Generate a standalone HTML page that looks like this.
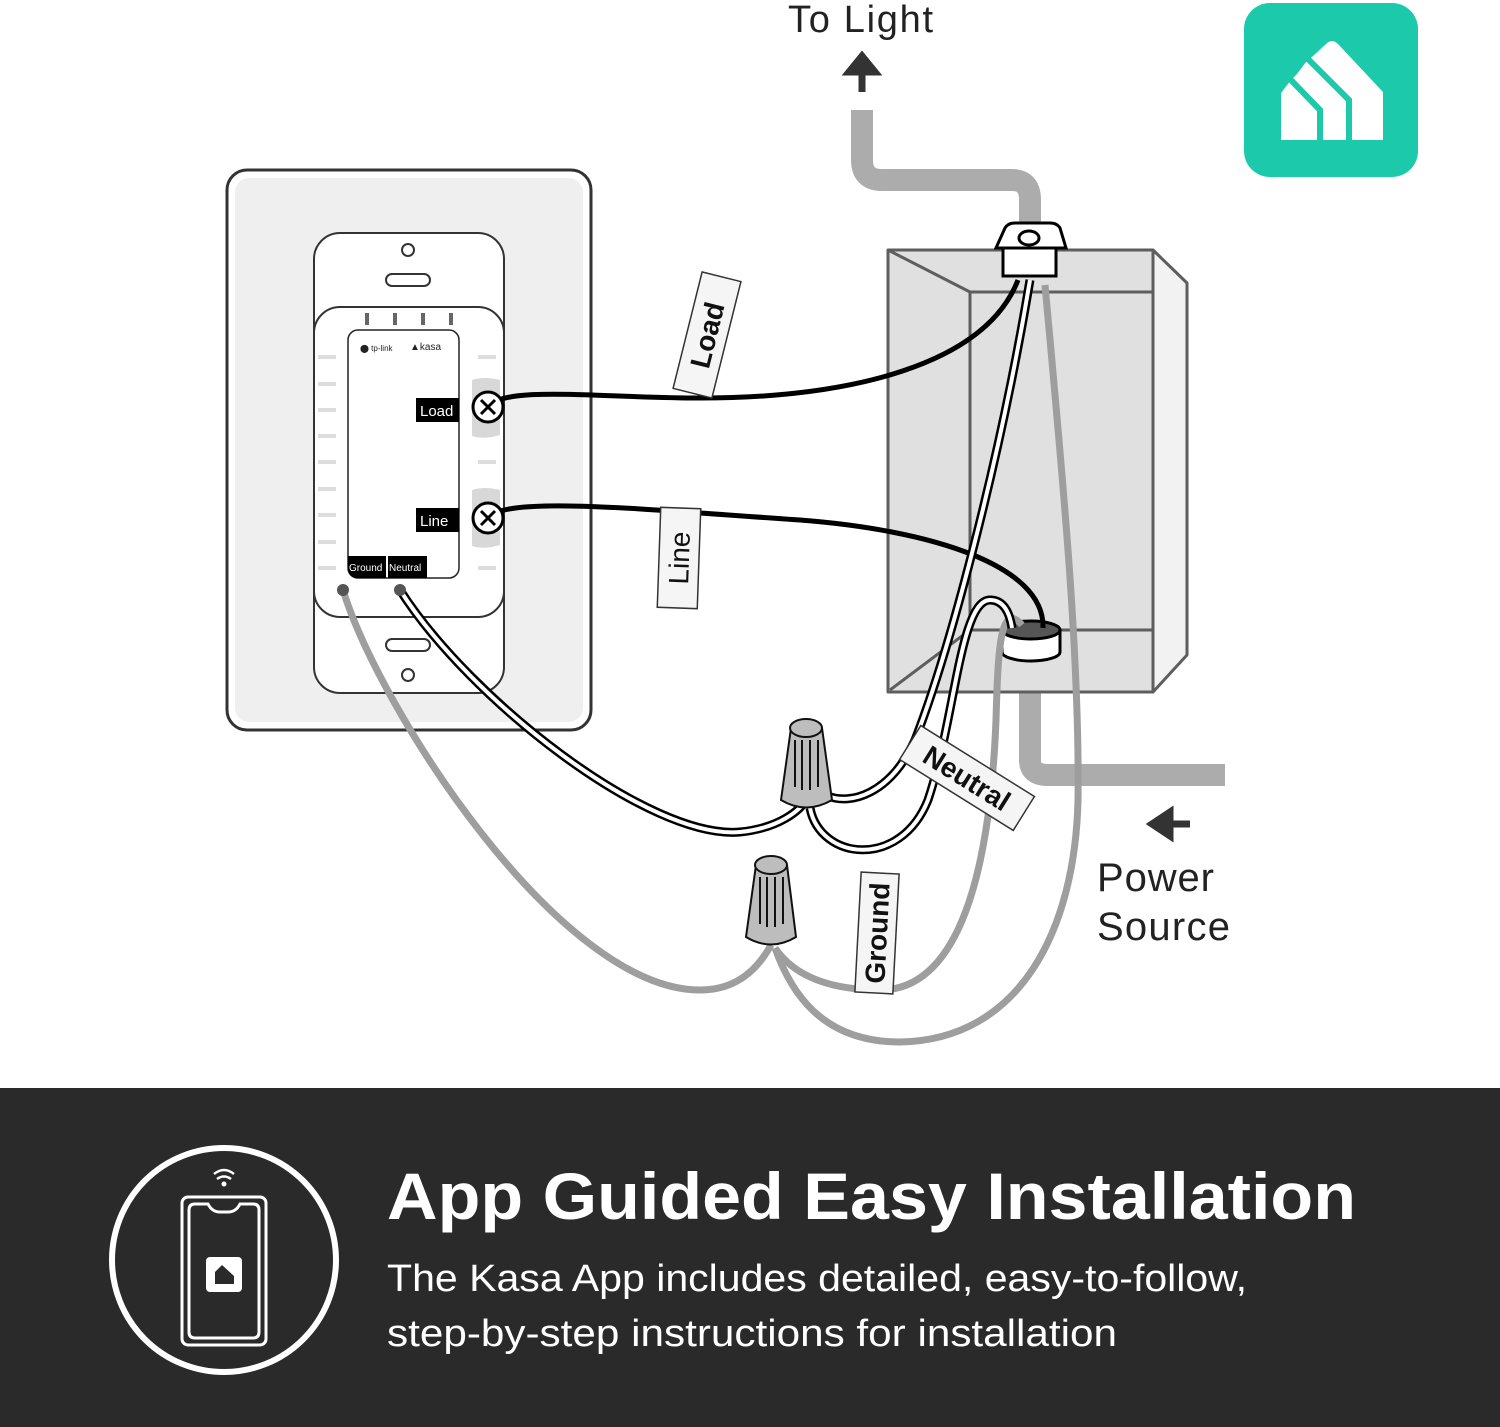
<!DOCTYPE html>
<html><head><meta charset="utf-8"><style>
html,body{margin:0;padding:0;background:#fff;}
svg{display:block;}
text{font-family:"Liberation Sans",sans-serif;}
</style></head><body>
<svg width="1500" height="1427" viewBox="0 0 1500 1427" xmlns="http://www.w3.org/2000/svg">
<rect width="1500" height="1427" fill="#fff"/>

<!-- To Light gray conduit -->
<path d="M862,110 V160 Q862,180 882,180 H1012 Q1030,180 1030,200 V235" fill="none" stroke="#acacac" stroke-width="22"/>
<path d="M862,92 V68 M849,72 L862,56 L875,72 Z" stroke="#333" stroke-width="7" fill="#333"/>
<text x="788" y="32" font-size="38" fill="#222" textLength="145">To Light</text>

<!-- Power source conduit -->
<path d="M1030,680 V760 Q1030,775 1048,775 H1225" fill="none" stroke="#acacac" stroke-width="22"/>
<path d="M1190,824 H1165 M1170,812 L1152,824 L1170,836 Z" stroke="#333" stroke-width="7" fill="#333"/>
<text x="1097" y="891" font-size="40" fill="#222" textLength="117">Power</text>
<text x="1097" y="940" font-size="40" fill="#222" textLength="133">Source</text>

<!-- Kasa icon -->
<rect x="1244" y="3" width="174" height="174" rx="26" fill="#1dc9ab"/>
<path d="M1281,140 V93 L1291,80 L1297,74 L1306,62 L1313,56 L1326,44 Q1332,38 1338,44 L1383,92 V140 Z" fill="#fff"/>
<path d="M1289,78 L1320,110 V142 M1307,58 L1349,100 V142" fill="none" stroke="#1dc9ab" stroke-width="6"/>

<!-- Box -->
<g stroke="#5e5e5e" stroke-width="3" stroke-linejoin="round">
<polygon points="1153,250 1187,283 1187,655 1153,692" fill="#f2f2f2"/>
<rect x="888" y="250" width="265" height="442" fill="#e0e0e0"/>
<rect x="970" y="292" width="183" height="338" fill="#e0e0e0"/>
<line x1="888" y1="250" x2="970" y2="292"/>
<line x1="890" y1="690" x2="970" y2="630"/>
</g>

<!-- Wall plate -->
<rect x="227" y="170" width="364" height="560" rx="20" fill="#fff" stroke="#333" stroke-width="3"/>
<rect x="235" y="178" width="348" height="544" rx="14" fill="#efefef"/>
<rect x="314" y="233" width="190" height="460" rx="26" fill="#fff" stroke="#333" stroke-width="2"/>
<circle cx="408" cy="250" r="6" fill="none" stroke="#333" stroke-width="2"/>
<circle cx="408" cy="675" r="6" fill="none" stroke="#333" stroke-width="2"/>
<path d="M392,274 h32 a6,6 0 0 1 0,12 h-32 a6,6 0 0 1 0,-12 Z" fill="none" stroke="#333" stroke-width="2"/>
<path d="M392,639 h32 a6,6 0 0 1 0,12 h-32 a6,6 0 0 1 0,-12 Z" fill="none" stroke="#333" stroke-width="2"/>
<rect x="314" y="307" width="190" height="310" rx="26" fill="#fff" stroke="#333" stroke-width="2"/>
<g fill="#ddd">
<rect x="318" y="355" width="18" height="4"/><rect x="318" y="382" width="18" height="4"/><rect x="318" y="408" width="18" height="4"/><rect x="318" y="434" width="18" height="4"/><rect x="318" y="460" width="18" height="4"/><rect x="318" y="487" width="18" height="4"/><rect x="318" y="513" width="18" height="4"/><rect x="318" y="540" width="18" height="4"/><rect x="318" y="566" width="18" height="4"/>
<rect x="478" y="355" width="18" height="4"/><rect x="478" y="460" width="18" height="4"/><rect x="478" y="566" width="18" height="4"/>
</g>
<g fill="#666"><rect x="365" y="313" width="4" height="12"/><rect x="393" y="313" width="4" height="12"/><rect x="421" y="313" width="4" height="12"/><rect x="449" y="313" width="4" height="12"/></g>
<path d="M472,380 Q484,376 500,380 V435 Q484,440 472,436 Z" fill="#d8d8d8"/>
<path d="M472,490 Q484,486 500,490 V545 Q484,550 472,546 Z" fill="#d8d8d8"/>
<rect x="348" y="330" width="111" height="248" rx="10" fill="#fff" stroke="#222" stroke-width="1.5"/>
<text x="360" y="351" font-size="8" fill="#222">⬤ tp-link</text>
<text x="410" y="350" font-size="10" fill="#222">▲kasa</text>
<rect x="416" y="398" width="43" height="24" fill="#000"/>
<text x="420" y="416" font-size="15" fill="#fff">Load</text>
<rect x="416" y="508" width="43" height="24" fill="#000"/>
<text x="420" y="526" font-size="15" fill="#fff">Line</text>
<path d="M348,556 H386 V578 H358 Q348,578 348,568 Z" fill="#000"/>
<rect x="388" y="556" width="39" height="22" fill="#000"/>
<text x="349" y="571" font-size="10" fill="#fff">Ground</text>
<text x="389" y="571" font-size="10" fill="#fff">Neutral</text>

<!-- Clamp top -->
<path d="M996,248 L1005,228 Q1008,223 1015,223 H1050 Q1057,223 1060,228 L1066,248 Z" fill="#fff" stroke="#000" stroke-width="3"/>
<ellipse cx="1029" cy="238" rx="10" ry="7" fill="#fff" stroke="#000" stroke-width="3"/>
<rect x="1003" y="248" width="53" height="28" fill="#fff" stroke="#000" stroke-width="3"/>

<!-- gray ground wire inside box from clamp -->
<path d="M1045,285 C1060,450 1080,650 1078,800 C1075,930 1020,1040 900,1042 C820,1042 790,990 775,948" fill="none" stroke="#9e9e9e" stroke-width="7"/>

<!-- Ring bottom -->
<path d="M1002,630 V652 A29,9 0 0 0 1060,652 V630" fill="#fff" stroke="#000" stroke-width="3"/>
<ellipse cx="1031" cy="630" rx="29" ry="9" fill="#555" stroke="#000" stroke-width="3"/>

<!-- Black wires -->
<path d="M488,407 C505,385 600,398 700,398 C850,398 985,365 1018,280" fill="none" stroke="#000" stroke-width="5"/>
<path d="M488,518 C505,495 650,510 800,520 C930,530 1045,565 1043,628" fill="none" stroke="#000" stroke-width="5"/>

<!-- gray ground to ring -->
<path d="M1022,625 C1000,600 998,650 996,720 C990,870 960,990 880,990 C820,990 790,970 775,948" fill="none" stroke="#9e9e9e" stroke-width="7"/>
<!-- gray ground from switch -->
<path d="M343,590 C380,710 560,990 700,990 C740,990 760,965 771,945" fill="none" stroke="#9e9e9e" stroke-width="7"/>
<circle cx="343" cy="590" r="6" fill="#555"/>

<!-- White wires -->
<g fill="none">
<path d="M400,590 C470,700 650,840 740,832 C780,828 800,810 806,800" stroke="#000" stroke-width="9"/>
<path d="M400,590 C470,700 650,840 740,832 C780,828 800,810 806,800" stroke="#fff" stroke-width="4"/>
<path d="M1030,280 C1000,460 950,650 915,740 C890,795 850,805 828,796" stroke="#000" stroke-width="9"/>
<path d="M1030,280 C1000,460 950,650 915,740 C890,795 850,805 828,796" stroke="#fff" stroke-width="4"/>
<path d="M810,808 C820,860 900,870 928,800 C955,720 960,600 990,600 C1005,600 1010,615 1012,628" stroke="#000" stroke-width="9"/>
<path d="M810,808 C820,860 900,870 928,800 C955,720 960,600 990,600 C1005,600 1010,615 1012,628" stroke="#fff" stroke-width="4"/>
</g>
<circle cx="400" cy="590" r="6" fill="#555"/>

<!-- screws -->
<g stroke="#000" stroke-width="3">
<circle cx="488" cy="407" r="15" fill="#fff"/><path d="M481,400 L495,414 M495,400 L481,414"/>
<circle cx="488" cy="518" r="15" fill="#fff"/><path d="M481,511 L495,525 M495,511 L481,525"/>
</g>

<!-- wire nuts -->
<g stroke="#111" stroke-width="2" fill="#bdbdbd">
<path d="M791,728 L781,800 Q806,815 832,800 L822,728 Z"/>
<ellipse cx="806" cy="728" rx="16" ry="9"/>
<path d="M795,740 V787 M802,740 V790 M810,740 V790 M818,740 V787" fill="none"/>
<path d="M756,865 L746,937 Q771,952 796,937 L787,865 Z"/>
<ellipse cx="771" cy="865" rx="16" ry="9"/>
<path d="M760,877 V924 M767,877 V927 M775,877 V927 M783,877 V924" fill="none"/>
</g>

<!-- labels -->
<g font-size="28" font-weight="bold" fill="#111">
<g transform="translate(707,335) rotate(-76)"><rect x="-60" y="-20" width="120" height="40" fill="#f5f5f5" stroke="#333" stroke-width="1.5"/><text x="0" y="10" text-anchor="middle">Load</text></g>
<g transform="translate(679,558) rotate(-88)"><rect x="-50" y="-20" width="100" height="40" fill="#f5f5f5" stroke="#333" stroke-width="1.5"/><text x="0" y="10" text-anchor="middle" font-weight="normal">Line</text></g>
<g transform="translate(967,778) rotate(32)"><rect x="-67" y="-20" width="134" height="40" fill="#f5f5f5" stroke="#333" stroke-width="1.5"/><text x="0" y="10" text-anchor="middle">Neutral</text></g>
<g transform="translate(877,933) rotate(-87)"><rect x="-60" y="-19" width="120" height="38" fill="#f5f5f5" stroke="#333" stroke-width="1.5"/><text x="0" y="10" text-anchor="middle">Ground</text></g>
</g>

<!-- bottom band -->
<rect x="0" y="1088" width="1500" height="339" fill="#2a2a2a"/>
<circle cx="224" cy="1260" r="112" fill="none" stroke="#fff" stroke-width="6"/>
<rect x="182" y="1197" width="84" height="148" rx="6" fill="none" stroke="#fff" stroke-width="3"/>
<path d="M195,1204 H208 Q212,1212 220,1212 H228 Q236,1212 240,1204 H253 Q259,1204 259,1210 V1332 Q259,1338 253,1338 H195 Q189,1338 189,1332 V1210 Q189,1204 195,1204 Z" fill="none" stroke="#fff" stroke-width="3"/>
<rect x="206" y="1257" width="36" height="35" rx="4" fill="#fff"/>
<path d="M215,1284 V1272 L222,1265 L234,1276 V1284 Z" fill="#2a2a2a"/>
<path d="M214,1174 Q224,1166 234,1174 M217,1179 Q224,1174 231,1179" fill="none" stroke="#fff" stroke-width="2.5"/>
<circle cx="224" cy="1184" r="2.5" fill="#fff"/>
<text x="387" y="1219" font-size="66" font-weight="bold" fill="#fff" textLength="969" lengthAdjust="spacingAndGlyphs">App Guided Easy Installation</text>
<text x="387" y="1291" font-size="38" fill="#fff" textLength="860" lengthAdjust="spacingAndGlyphs">The Kasa App includes detailed, easy-to-follow,</text>
<text x="387" y="1346" font-size="38" fill="#fff" textLength="730" lengthAdjust="spacingAndGlyphs">step-by-step instructions for installation</text>
</svg>
</body></html>
